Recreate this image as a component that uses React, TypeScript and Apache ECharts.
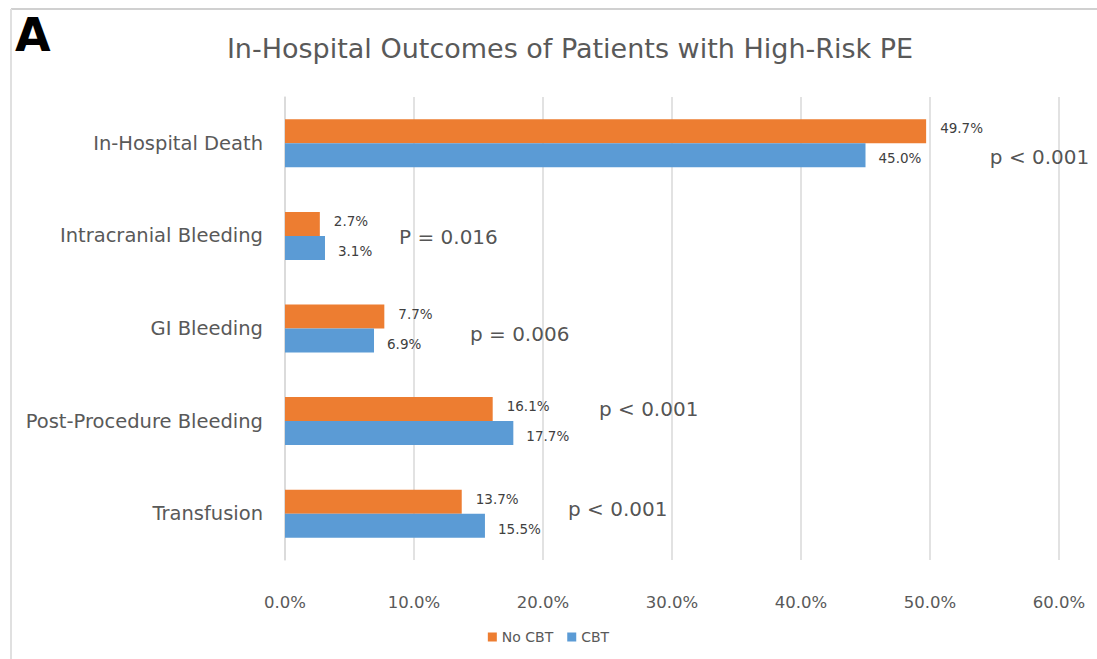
import React, { useEffect, useRef } from "react";
import * as echarts from "echarts";

const categories = [
  "In-Hospital Death",
  "Intracranial Bleeding",
  "GI Bleeding",
  "Post-Procedure Bleeding",
  "Transfusion",
];
const noCBT = [49.7, 2.7, 7.7, 16.1, 13.7];
const cbt = [45.0, 3.1, 6.9, 17.7, 15.5];
const pTexts = ["p < 0.001", "P = 0.016", "p = 0.006", "p < 0.001", "p < 0.001"];
const pX = [54.6, 8.8, 14.3, 24.3, 21.9];
const pDy = [14, 1, 5, -12, -5];
const xTicksMax = 60;

const FONT = "'DejaVu Sans', 'Noto Sans', sans-serif";

export default function App() {
  const ref = useRef<HTMLDivElement>(null);
  useEffect(() => {
    const chart = echarts.init(ref.current!, null, { renderer: "svg" });
    chart.setOption({
      animation: false,
      backgroundColor: "#ffffff",
      textStyle: { fontFamily: FONT },
      title: {
        text: "In-Hospital Outcomes of Patients with High-Risk PE",
        left: 565,
        top: 30,
        textAlign: "center",
        textStyle: { fontFamily: FONT, fontSize: 27, fontWeight: "normal", color: "#595959" },
      },
      legend: {
        data: ["No CBT", "CBT"],
        bottom: 10,
        left: "center",
        itemWidth: 9,
        itemHeight: 9,
        itemGap: 14,
        icon: "rect",
        textStyle: { fontFamily: FONT, fontSize: 14, color: "#595959" },
      },
      grid: { left: 285, right: 38, top: 97, bottom: 99, containLabel: false },
      xAxis: {
        type: "value",
        min: 0,
        max: xTicksMax,
        interval: 10,
        axisLabel: {
          formatter: (v: number) => v.toFixed(1) + "%",
          fontFamily: FONT,
          fontSize: 16.5,
          color: "#595959",
          margin: 34,
        },
        axisLine: { show: false },
        axisTick: { show: false },
        splitLine: { show: true, lineStyle: { color: "#d9d9d9", width: 1.5 } },
      },
      yAxis: {
        type: "category",
        data: categories,
        inverse: true,
        axisLabel: { fontFamily: FONT, fontSize: 19.5, color: "#595959", margin: 22 },
        axisLine: { show: true, lineStyle: { color: "#d9d9d9", width: 1.5 } },
        axisTick: { show: false },
      },
      series: [
        {
          name: "No CBT",
          type: "bar",
          data: noCBT,
          barWidth: 24,
          barGap: "0%",
          itemStyle: { color: "#ED7D31" },
          label: {
            show: true,
            position: "right",
            distance: 14,
            offset: [0, -3],
            formatter: (p: any) => p.value.toFixed(1) + "%",
            fontFamily: FONT,
            fontSize: 13.5,
            color: "#404040",
          },
        },
        {
          name: "CBT",
          type: "bar",
          data: cbt,
          barWidth: 24,
          barGap: "0%",
          itemStyle: { color: "#5B9BD5" },
          label: {
            show: true,
            position: "right",
            distance: 13,
            offset: [0, 3],
            formatter: (p: any) => p.value.toFixed(1) + "%",
            fontFamily: FONT,
            fontSize: 13.5,
            color: "#404040",
          },
        },
        {
          name: "p",
          type: "scatter",
          symbolSize: 1,
          itemStyle: { color: "rgba(0,0,0,0)" },
          data: pTexts.map((t, i) => ({
            value: [pX[i], categories[i]],
            label: {
              show: true,
              position: "right",
              distance: 0,
              offset: [0, pDy[i]],
              formatter: t,
              fontFamily: FONT,
              fontSize: 20,
              color: "#262626",
            },
          })),
          z: 5,
        },
      ],
      graphic: [
        { type: "line", shape: { x1: 11, y1: 9, x2: 1097, y2: 9 }, style: { stroke: "#d0d0d0", lineWidth: 2 } },
        { type: "line", shape: { x1: 11, y1: 9, x2: 11, y2: 659 }, style: { stroke: "#e0e0e0", lineWidth: 2 } },
        {
          type: "text",
          left: 15,
          top: 12,
          style: { text: "A", fontFamily: "'DejaVu Sans', sans-serif", fontWeight: "bold", fontSize: 46, fill: "#000" },
        },
      ],
    });
    return () => chart.dispose();
  }, []);
  return (
    <div
      ref={ref}
      style={{ position: "fixed", left: 0, top: 0, width: 1097, height: 659, background: "#fff" }}
    />
  );
}
